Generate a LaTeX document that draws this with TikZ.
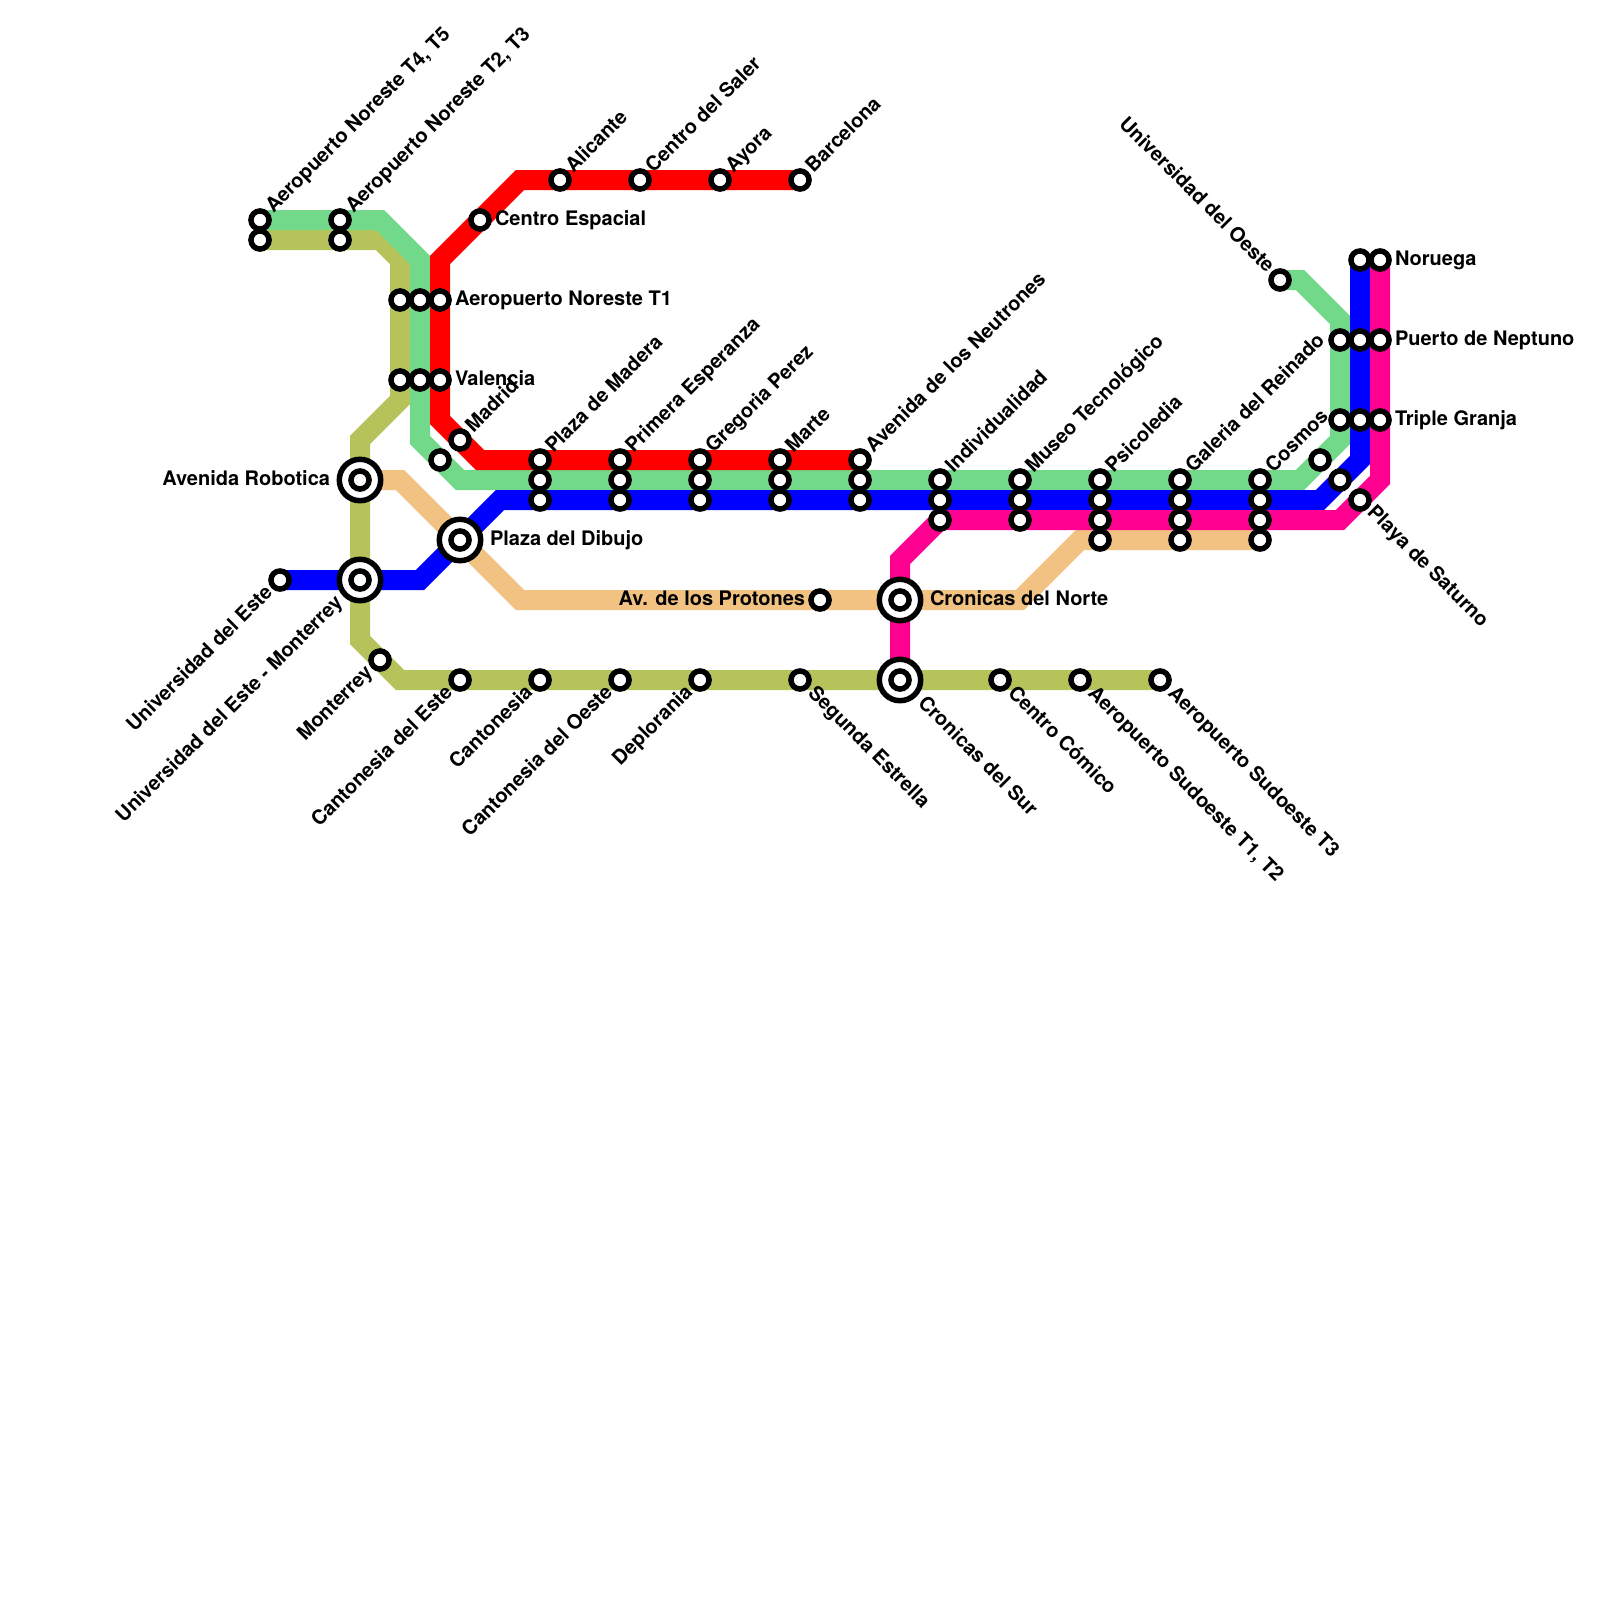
\documentclass[tikz,border=0pt]{standalone}
\usepackage{fontspec}
\setmainfont{TeX Gyre Heros}
\definecolor{cgreen}{HTML}{72D98A}
\definecolor{colive}{HTML}{B6C35A}
\definecolor{corange}{HTML}{F2C282}
\definecolor{cblue}{HTML}{0000FF}
\definecolor{cpink}{HTML}{FF0090}
\definecolor{cred}{HTML}{FF0000}
\tikzset{
  metro/.style={line width=20pt,line join=miter,line cap=butt},
  stn/.style={circle,draw=black,fill=white,line width=5.5pt,inner sep=0pt,minimum size=18.1pt,outer sep=0pt},
  hub/.style={circle,draw=black,fill=white,line width=5.5pt,inner sep=0pt,minimum size=41.4pt,outer sep=0pt},
  lbl/.style={font=\bfseries\fontsize{20}{22}\selectfont,inner sep=0pt,outer sep=0pt,text height=14pt,text depth=4pt,text=black}
}
\newcommand\stn[3]{\node[stn] (#1) at (#2,-#3) {};}
\newcommand\hubst[3]{\node[hub] (#1o) at (#2,-#3) {};\node[stn] (#1) at (#1o) {};}
\newcommand\labNE[3][10]{\node[lbl,rotate=45,anchor=west] (#2l) at ([shift={(#1,#1)}]#2) {#3};}
\newcommand\labSW[3][10]{\node[lbl,rotate=45,anchor=east] (#2l) at ([shift={(-#1,-#1)}]#2) {#3};}
\newcommand\labSE[3][10.7]{\node[lbl,rotate=-45,anchor=west] (#2l) at ([shift={(#1,-#1)}]#2) {#3};}
\newcommand\labNW[3][10]{\node[lbl,rotate=-45,anchor=east] (#2l) at ([shift={(-#1,#1)}]#2) {#3};}
\newcommand\labE[3][15]{\node[lbl,anchor=west] (#2l) at ([shift={(#1,0)}]#2) {#3};}
\newcommand\labW[3][15]{\node[lbl,anchor=east] (#2l) at ([shift={(-#1,0)}]#2) {#3};}
\begin{document}
\begin{tikzpicture}[x=1pt,y=1pt]
\useasboundingbox (0,0) rectangle (1600,-1600);
\fill[white] (0,0) rectangle (1600,-1600);
% bends
\foreach \n/\x/\y in {
 gs/260/220,ga/380/220,gb/420/260,gc/420/440,gd/460/480,ge/1300/480,gf/1340/440,gg/1340/320,gh/1300/280,gi/1280/280,
 os/260/240,oa/380/240,ob/400/260,oc/400/400,od/360/440,oe/360/640,of/400/680,og/1160/680,
 rs/800/180,ra/520/180,rb/440/260,rc/440/420,rd/480/460,re/860/460,
 bs/280/580,ba/420/580,bb/500/500,bc/1320/500,bd/1360/460,be/1360/260,
 ps/1380/260,pa/1380/480,pb/1340/520,pc/940/520,pd/900/560,pe/900/680,
 ys/360/480,ya/400/480,yb/520/600,yc/1020/600,yd/1080/540,ye/1260/540}
 {\coordinate (\n) at (\x,-\y);}
% lines
\draw[metro,colive] (os)--(oa)--(ob)--(oc)--(od)--(oe)--(of)--(og);
\draw[metro,corange] (ys)--(ya)--(yb)--(yc)--(yd)--(ye);
\draw[metro,cgreen] (gs)--(ga)--(gb)--(gc)--(gd)--(ge)--(gf)--(gg)--(gh)--(gi);
\draw[metro,cblue] (bs)--(ba)--(bb)--(bc)--(bd)--(be);
\draw[metro,cpink] (ps)--(pa)--(pb)--(pc)--(pd)--(pe);
\draw[metro,cred] (rs)--(ra)--(rb)--(rc)--(rd)--(re);
% stations
\stn{a1}{260}{220}\stn{a2}{260}{240}\stn{b1}{340}{220}\stn{b2}{340}{240}
\stn{c1}{400}{300}\stn{c2}{420}{300}\stn{c3}{440}{300}
\stn{d1}{400}{380}\stn{d2}{420}{380}\stn{d3}{440}{380}
\stn{e1}{440}{460}\stn{e2}{460}{440}\stn{e3}{480}{220}
\stn{f1}{560}{180}\stn{f2}{640}{180}\stn{f3}{720}{180}\stn{f4}{800}{180}
\stn{g1}{540}{460}\stn{g2}{540}{480}\stn{g3}{540}{500}
\stn{h1}{620}{460}\stn{h2}{620}{480}\stn{h3}{620}{500}
\stn{i1}{700}{460}\stn{i2}{700}{480}\stn{i3}{700}{500}
\stn{j1}{780}{460}\stn{j2}{780}{480}\stn{j3}{780}{500}
\stn{k1}{860}{460}\stn{k2}{860}{480}\stn{k3}{860}{500}
\stn{l1}{940}{480}\stn{l2}{940}{500}\stn{l3}{940}{520}
\stn{m1}{1020}{480}\stn{m2}{1020}{500}\stn{m3}{1020}{520}
\stn{n1}{1100}{480}\stn{n2}{1100}{500}\stn{n3}{1100}{520}\stn{n4}{1100}{540}
\stn{q1}{1180}{480}\stn{q2}{1180}{500}\stn{q3}{1180}{520}\stn{q4}{1180}{540}
\stn{t1}{1260}{480}\stn{t2}{1260}{500}\stn{t3}{1260}{520}\stn{t4}{1260}{540}
\stn{u1}{1320}{460}\stn{u2}{1340}{480}\stn{u3}{1360}{500}
\stn{v1}{1280}{280}\stn{v2}{1360}{260}\stn{v3}{1380}{260}
\stn{w1}{1340}{340}\stn{w2}{1360}{340}\stn{w3}{1380}{340}
\stn{x1}{1340}{420}\stn{x2}{1360}{420}\stn{x3}{1380}{420}
\stn{y1}{280}{580}\stn{y2}{380}{660}\stn{y3}{460}{680}\stn{y4}{540}{680}\stn{y5}{620}{680}\stn{y6}{700}{680}\stn{y7}{800}{680}
\stn{y8}{1000}{680}\stn{y9}{1080}{680}\stn{y0}{1160}{680}\stn{z1}{820}{600}
\hubst{hr}{360}{480}\hubst{hm}{360}{580}\hubst{hd}{460}{540}\hubst{hn}{900}{600}\hubst{hs}{900}{680}
% labels
\labNE{a1}{Aeropuerto Noreste T4, T5}
\labNE{b1}{Aeropuerto Noreste T2, T3}
\labE{c3}{Aeropuerto Noreste T1}
\labE{d3}{Valencia}
\labNE{e2}{Madrid}
\labE{e3}{Centro Espacial}
\labNE{f1}{Alicante}\labNE{f2}{Centro del Saler}\labNE{f3}{Ayora}\labNE{f4}{Barcelona}
\labNE{g1}{Plaza de Madera}\labNE{h1}{Primera Esperanza}\labNE{i1}{Gregoria Perez}\labNE{j1}{Marte}
\labNE{k1}{Avenida de los Neutrones}\labNE{l1}{Individualidad}\labNE{m1}{Museo Tecnológico}
\labNE{n1}{Psicoledia}\labNE{q1}{Galeria del Reinado}\labNE{t1}{Cosmos}
\labSE[10]{u3}{Playa de Saturno}
\labNW{v1}{Universidad del Oeste}
\labE{v3}{Noruega}\labE{w3}{Puerto de Neptuno}\labE{x3}{Triple Granja}
\labSW{y1}{Universidad del Este}
\labSW{y2}{Monterrey}\labSW{y3}{Cantonesia del Este}\labSW{y4}{Cantonesia}\labSW{y5}{Cantonesia del Oeste}\labSW{y6}{Deplorania}
\labSE{y7}{Segunda Estrella}\labSE{y8}{Centro Cómico}\labSE{y9}{Aeropuerto Sudoeste T1, T2}\labSE{y0}{Aeropuerto Sudoeste T3}
\labW{z1}{Av. de los Protones}
\labW[30]{hr}{Avenida Robotica}
\labSW[20]{hm}{Universidad del Este - Monterrey}
\labE[30]{hd}{Plaza del Dibujo}
\labE[30]{hn}{Cronicas del Norte}
\labSE[20.7]{hs}{Cronicas del Sur}
\end{tikzpicture}
\end{document}
